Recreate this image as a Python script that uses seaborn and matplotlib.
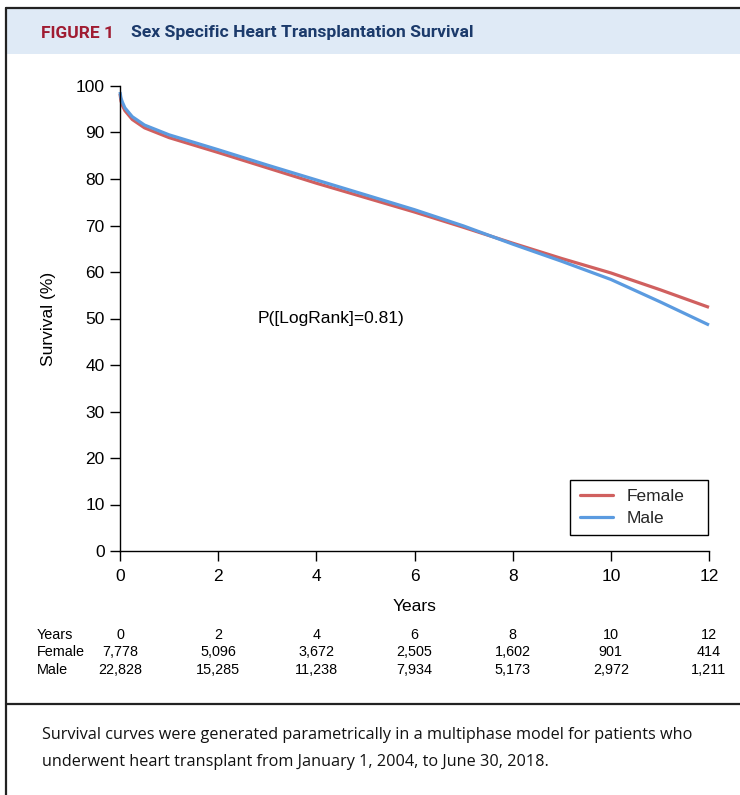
import numpy as np
import pandas as pd
import matplotlib
matplotlib.use("Agg")
import matplotlib.pyplot as plt
import seaborn as sns
from matplotlib.patches import Rectangle
from matplotlib.lines import Line2D
from matplotlib.transforms import blended_transform_factory

# ---------------- data ----------------
years = [0, 0.02, 0.05, 0.1, 0.25, 0.5, 1, 1.5, 2, 3, 4, 5, 6, 7, 8, 9, 10, 11, 12]
female = [98.3, 96.8, 95.8, 94.7, 92.8, 91.0, 88.9, 87.3, 85.7, 82.4, 79.1, 76.0, 72.9, 69.6, 66.2, 62.9, 59.8, 56.2, 52.4]
male = [98.7, 97.4, 96.5, 95.3, 93.4, 91.6, 89.5, 87.9, 86.3, 83.0, 79.8, 76.6, 73.4, 69.9, 66.0, 62.3, 58.4, 53.6, 48.6]

risk_years = [0, 2, 4, 6, 8, 10, 12]
risk_female = ["7,778", "5,096", "3,672", "2,505", "1,602", "901", "414"]
risk_male = ["22,828", "15,285", "11,238", "7,934", "5,173", "2,972", "1,211"]

y_ticks = [0, 10, 20, 30, 40, 50, 60, 70, 80, 90, 100]
x_ticks = [0, 2, 4, 6, 8, 10, 12]

df = pd.DataFrame({
    "Years": years + years,
    "Survival": female + male,
    "Sex": ["Female"] * len(years) + ["Male"] * len(years),
})

# ---------------- style ----------------
sns.set_theme(style="white")
plt.rcParams["font.family"] = ["Liberation Sans", "DejaVu Sans"]

RED = "#d0605f"
BLUE = "#5b9be0"
W, H = 740, 795
fig = plt.figure(figsize=(W / 100, H / 100), dpi=100)

def fx(px):
    return px / W

def fy(py):
    return 1 - py / H

ax = fig.add_axes([fx(120), fy(551), fx(709) - fx(120), fy(86) - fy(551)])

sns.lineplot(data=df, x="Years", y="Survival", hue="Sex",
             palette={"Female": RED, "Male": BLUE}, estimator=None,
             linewidth=2.3, ax=ax, legend=False, sort=True)
for ln in ax.lines:
    ln.set_clip_on(False)
    ln.set_solid_capstyle("butt")

ax.set_xlim(0, 12)
ax.set_ylim(0, 100)
ax.set_xticks(x_ticks)
ax.set_yticks(y_ticks)
ax.set_xticklabels([str(v) for v in x_ticks], fontsize=12.5)
ax.set_yticklabels([str(v) for v in y_ticks], fontsize=12.5)
for s in ["top", "right"]:
    ax.spines[s].set_visible(False)
for s in ["left", "bottom"]:
    ax.spines[s].set_color("black")
    ax.spines[s].set_linewidth(1.0)
ax.tick_params(axis="both", which="both", direction="out", length=7,
               width=1.0, color="black", labelcolor="black",
               left=True, bottom=True)
ax.tick_params(axis="y", pad=4)
ax.tick_params(axis="x", pad=6)
ax.set_xlabel("Years", fontsize=12.5, color="black", labelpad=11)
ax.set_ylabel("Survival (%)", fontsize=12.5, color="black", labelpad=14)
ax.patch.set_alpha(0)

ax.text(4.3, 50, "P([LogRank]=0.81)", fontsize=12.5, ha="center",
        va="center", color="black")

handles = [Line2D([0], [0], color=RED, lw=2.3),
           Line2D([0], [0], color=BLUE, lw=2.3)]
leg = ax.legend(handles, ["Female", "Male"], loc="lower left",
                bbox_to_anchor=(0.764, 0.034, 0.234, 0.118), mode="expand",
                borderaxespad=0, frameon=True, fancybox=False,
                edgecolor="black", framealpha=1, fontsize=12.5,
                handlelength=1.9, handletextpad=0.8, labelspacing=0.35,
                borderpad=0.55)
leg.get_frame().set_linewidth(1.0)

# ---------------- numbers at risk ----------------
tr = blended_transform_factory(ax.transData, fig.transFigure)
rows = [("Years", [str(v) for v in risk_years], 635),
        ("Female", risk_female, 652.5),
        ("Male", risk_male, 670)]
for label, vals, py in rows:
    fig.text(fx(37), fy(py), label, fontsize=10.4, ha="left", va="center",
             color="black")
    for xv, sv in zip(risk_years, vals):
        ax.text(xv, fy(py), sv, transform=tr, fontsize=10.4, ha="center",
                va="center", color="black", clip_on=False)

# ---------------- frame / header / caption ----------------
fig.add_artist(Rectangle((fx(7), fy(54)), 1 - fx(7), fy(9) - fy(54),
                         transform=fig.transFigure, facecolor="#dfeaf6",
                         edgecolor="none", zorder=0))
fig.add_artist(Line2D([fx(6), 1], [fy(8), fy(8)], transform=fig.transFigure,
                      color="#222222", lw=1.6))
fig.add_artist(Line2D([fx(6), fx(6)], [fy(8), 0], transform=fig.transFigure,
                      color="#222222", lw=1.6))
fig.add_artist(Line2D([fx(6), 1], [fy(704), fy(704)], transform=fig.transFigure,
                      color="#222222", lw=1.6))

fig.text(fx(41), fy(33), "FIGURE 1", fontsize=12.5, fontweight="bold",
         color="#a01c32", ha="left", va="center",
         family=["Roboto", "DejaVu Sans"])
fig.text(fx(131), fy(33), "Sex Specific Heart Transplantation Survival",
         fontsize=12.6, fontweight="bold", color="#1b3a6b", ha="left",
         va="center", family=["Roboto", "DejaVu Sans"])

fig.text(fx(42), fy(735),
         "Survival curves were generated parametrically in a multiphase model for patients who",
         fontsize=11.7, color="#111111", ha="left", va="center",
         family=["Open Sans", "DejaVu Sans"])
fig.text(fx(42), fy(762),
         "underwent heart transplant from January 1, 2004, to June 30, 2018.",
         fontsize=11.7, color="#111111", ha="left", va="center",
         family=["Open Sans", "DejaVu Sans"])

fig.savefig("out.png", dpi=100)
